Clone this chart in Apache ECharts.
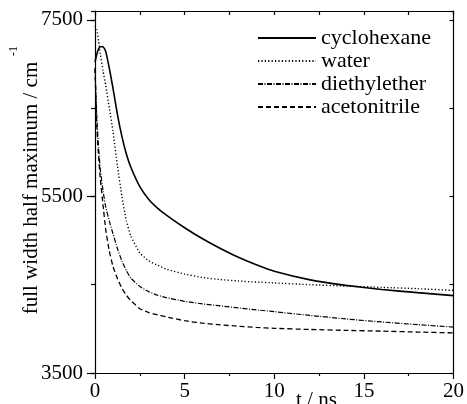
<!DOCTYPE html>
<html>
<head>
<meta charset="utf-8">
<script src="https://cdn.jsdelivr.net/npm/echarts@6/dist/echarts.min.js"></script>
<style>
html,body{margin:0;padding:0;background:#fff;}
#c{width:467px;height:404px;}
</style>
</head>
<body>
<div id="c"></div>
<script>
const times = [0, 0.1, 0.2, 0.3, 0.45, 0.6, 0.8, 1, 1.25, 1.5, 1.75, 2, 2.5, 3, 3.5, 4, 5, 6, 7, 8, 9, 10, 12, 14, 16, 18, 20];
const cyclohexane = [7020, 7110, 7170, 7195, 7195, 7140, 6950, 6730, 6430, 6180, 5980, 5830, 5610, 5465, 5365, 5285, 5145, 5020, 4910, 4810, 4725, 4652, 4555, 4492, 4446, 4410, 4376];
const water = [7430, 7390, 7260, 7110, 6920, 6755, 6500, 6240, 5850, 5500, 5225, 5050, 4860, 4770, 4720, 4675, 4620, 4582, 4558, 4542, 4530, 4520, 4500, 4485, 4470, 4455, 4436];
const diethylether = [6950, 6400, 6050, 5800, 5560, 5380, 5220, 5080, 4910, 4770, 4660, 4575, 4480, 4420, 4380, 4352, 4312, 4283, 4260, 4238, 4215, 4195, 4152, 4112, 4078, 4048, 4020];
const acetonitrile = [6950, 6300, 5950, 5690, 5400, 5120, 4880, 4710, 4570, 4460, 4380, 4320, 4228, 4185, 4158, 4135, 4092, 4064, 4045, 4030, 4016, 4006, 3993, 3983, 3974, 3964, 3954];
const seriesNames = ['cyclohexane', 'water', 'diethylether', 'acetonitrile'];
const xTickLabels = [0, 5, 10, 15, 20];
const yTickLabels = [3500, 5500, 7500];
const xTitle = 't / ns';
const yTitle = 'full width half maximum / cm';
const ySup = '-1';

const FONT = '"Liberation Serif", "DejaVu Serif", serif';
const pairs = v => times.map((t, i) => [t, v[i]]);
const styles = {
  cyclohexane: {type: 'solid', width: 1.6},
  water: {type: [1.2, 2.2], width: 1.4},
  diethylether: {type: [5, 1.5, 1, 1.5], width: 1.2},
  acetonitrile: {type: [5, 3], width: 1.3}
};
const dataMap = {cyclohexane, water, diethylether, acetonitrile};

const chart = echarts.init(document.getElementById('c'), null, {renderer: 'canvas'});
const axisLine = {show: true, onZero: false, lineStyle: {color: '#000', width: 1.2}};
chart.setOption({
  animation: false,
  backgroundColor: '#fff',
  grid: {left: 95, right: 12, top: 11, bottom: 31, containLabel: false},
  legend: {
    data: seriesNames,
    orient: 'vertical',
    left: 257,
    top: 27,
    padding: 0,
    itemWidth: 58,
    itemHeight: 14,
    itemGap: 1,
    itemStyle: {opacity: 0},
    textStyle: {fontFamily: FONT, fontSize: 22, color: '#000', lineHeight: 22}
  },
  xAxis: [
    {type: 'value', min: 0, max: 20, interval: 5, position: 'bottom',
     axisLine: axisLine,
     axisTick: {show: true, inside: false, length: 6, lineStyle: {color: '#000', width: 1.2}},
     minorTick: {show: true, splitNumber: 2, length: 3, lineStyle: {color: '#000', width: 1.2}},
     splitLine: {show: false},
     axisLabel: {margin: 8, fontFamily: FONT, fontSize: 21, color: '#000',
       formatter: v => xTickLabels.indexOf(v) >= 0 ? String(v) : ''}},
    {type: 'value', min: 0, max: 20, interval: 2.5, position: 'top',
     axisLine: axisLine,
     axisTick: {show: true, inside: true, length: 4, lineStyle: {color: '#000', width: 1.2}},
     splitLine: {show: false}, axisLabel: {show: false}}
  ],
  yAxis: [
    {type: 'value', min: 3500, max: 7600, interval: 2000, position: 'left',
     axisLine: axisLine,
     axisTick: {show: true, inside: false, length: 8, lineStyle: {color: '#000', width: 1.2}},
     splitLine: {show: false},
     axisLabel: {margin: 12, fontFamily: FONT, fontSize: 21, color: '#000', showMaxLabel: false,
       formatter: v => yTickLabels.indexOf(v) >= 0 ? String(v) : ''}},
    {type: 'value', min: 3500, max: 7600, interval: 1000, position: 'left',
     axisLine: {show: false},
     axisTick: {show: true, inside: false, length: 4, lineStyle: {color: '#000', width: 1.2}},
     splitLine: {show: false}, axisLabel: {show: false}},
    {type: 'value', min: 3500, max: 7600, interval: 1000, position: 'right',
     axisLine: axisLine,
     axisTick: {show: true, inside: true, length: 4, lineStyle: {color: '#000', width: 1.2}},
     splitLine: {show: false}, axisLabel: {show: false}}
  ],
  graphic: [
    {type: 'text', left: 296, top: 390, z: 10,
     style: {text: xTitle, font: '21px ' + FONT, fill: '#000'}},
    {type: 'text', x: 31, y: 188, rotation: Math.PI / 2, z: 10,
     style: {text: yTitle, font: '21px ' + FONT, fill: '#000', align: 'center', verticalAlign: 'middle'}},
    {type: 'text', x: 14, y: 51, rotation: Math.PI / 2, z: 10,
     style: {text: ySup, font: '12px ' + FONT, fill: '#000', align: 'center', verticalAlign: 'middle'}}
  ],
  series: seriesNames.map(n => ({
    name: n, type: 'line', xAxisIndex: 0, yAxisIndex: 0,
    data: pairs(dataMap[n]), showSymbol: false, symbol: 'none',
    smooth: 0.15,
    color: '#000',
    lineStyle: {color: '#000', width: styles[n].width, type: styles[n].type}
  }))
});
</script>
</body>
</html>
